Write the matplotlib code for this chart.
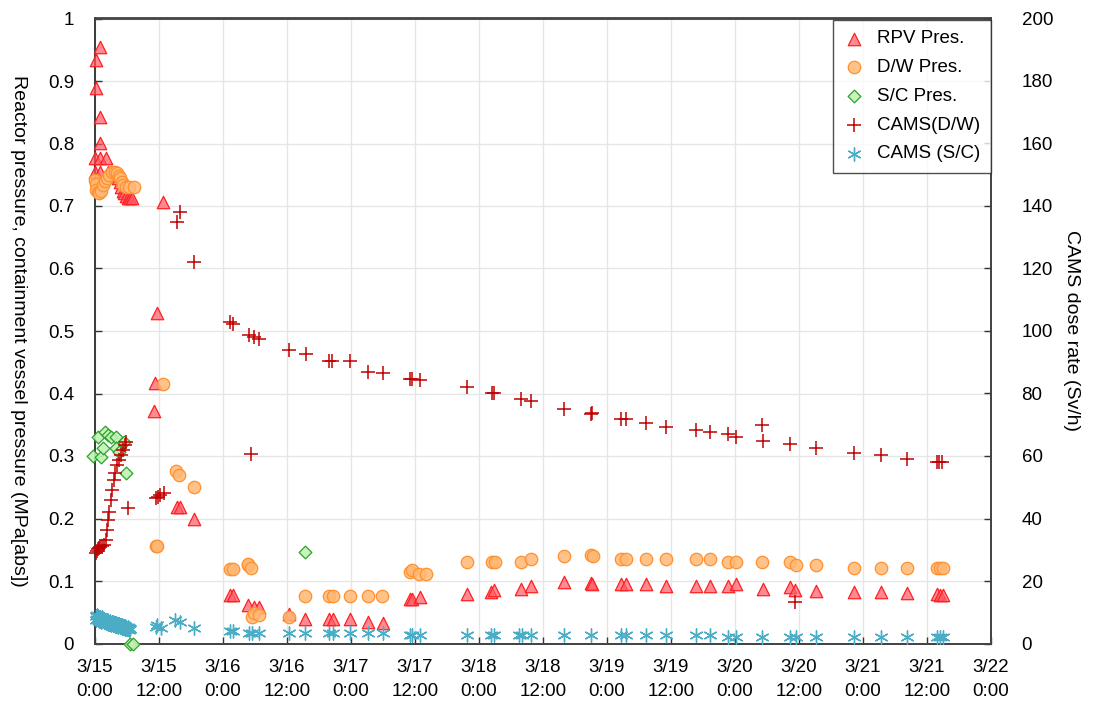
import matplotlib
matplotlib.use("Agg")
import matplotlib.pyplot as plt
import numpy as np

plt.rcParams['font.family'] = ['Liberation Sans', 'DejaVu Sans']

# Hours since 3/15 0:00
tick_hours = [0, 12, 24, 36, 48, 60, 72, 84, 96, 108, 120, 132, 144, 156, 168]
tick_labels = ["3/15\n0:00", "3/15\n12:00", "3/16\n0:00", "3/16\n12:00", "3/17\n0:00",
               "3/17\n12:00", "3/18\n0:00", "3/18\n12:00", "3/19\n0:00", "3/19\n12:00",
               "3/20\n0:00", "3/20\n12:00", "3/21\n0:00", "3/21\n12:00", "3/22\n0:00"]

# RPV pressure (MPa abs)
rpv_t = [0.1, 0.1, 0.9, 1.0, 1.0, 0.0, 1.0, 2.0, 0.0, 1.0,
         2.5, 3.0, 3.5, 4.0, 4.3, 4.6, 4.9, 5.2, 5.5, 5.8, 6.2, 6.6, 7.0,
         11.0, 11.3, 11.6, 12.75, 15.3, 15.9, 18.6,
         25.4, 25.9, 28.6, 29.8, 30.75, 36.4, 39.4, 43.9, 44.6, 47.75, 51.1, 54.0,
         59.0, 59.5, 60.9, 69.8, 74.2, 74.8, 79.8, 81.8, 88.0, 93.0, 93.2, 98.6, 99.6,
         103.4, 107.1, 112.6, 115.3, 118.75, 120.25, 125.25, 130.25, 131.25, 135.25,
         142.3, 147.3, 152.3, 157.8, 158.4, 159.0]
rpv_p = [0.933, 0.889, 0.954, 0.842, 0.800, 0.777, 0.777, 0.777, 0.754, 0.754,
         0.754, 0.754, 0.752, 0.750, 0.744, 0.738, 0.730, 0.724, 0.720, 0.716, 0.712, 0.712, 0.712,
         0.372, 0.417, 0.529, 0.707, 0.219, 0.219, 0.200,
         0.078, 0.078, 0.061, 0.059, 0.059, 0.048, 0.040, 0.039, 0.039, 0.039, 0.035, 0.033,
         0.072, 0.072, 0.075, 0.080, 0.083, 0.086, 0.087, 0.092, 0.099, 0.097, 0.095, 0.095, 0.095,
         0.096, 0.0925, 0.0925, 0.0925, 0.0925, 0.095, 0.088, 0.091, 0.086, 0.0845,
         0.083, 0.083, 0.081, 0.080, 0.078, 0.078]

# D/W pressure (MPa abs)
dw_t = [0.0, 0.1, 0.2, 0.5, 0.75, 1.1, 1.5, 1.9, 2.25, 2.7, 3.2, 3.7, 4.1, 4.5, 4.7, 5.0,
        5.25, 5.8, 6.4, 7.3,
        11.4, 11.7, 12.75, 15.1, 15.75, 18.6,
        25.4, 25.8, 28.6, 28.75, 29.2, 29.4, 29.8, 30.75,
        36.4, 39.4, 43.9, 44.6, 47.75, 51.1, 53.9,
        59.0, 59.4, 60.75, 62.0,
        69.8, 74.5, 75.0, 79.8, 81.8, 88.0, 93.0, 93.3, 98.6, 99.6, 103.4, 107.1, 112.6, 115.3,
        118.75, 120.25, 125.1, 130.25, 131.4, 135.25, 142.3, 147.3, 152.3, 157.8, 158.4, 159.0]
dw_p = [0.741, 0.735, 0.726, 0.722, 0.720, 0.724, 0.733, 0.740, 0.745, 0.750, 0.754, 0.754,
        0.752, 0.748, 0.744, 0.738, 0.733, 0.730, 0.730, 0.730,
        0.156, 0.156, 0.415, 0.276, 0.270, 0.250,
        0.120, 0.120, 0.126, 0.127, 0.121, 0.042, 0.049, 0.046,
        0.042, 0.076, 0.076, 0.076, 0.076, 0.076, 0.076,
        0.115, 0.118, 0.111, 0.111,
        0.131, 0.131, 0.131, 0.131, 0.135, 0.140, 0.1416, 0.140, 0.1357, 0.1357, 0.1357, 0.1357,
        0.1357, 0.1357, 0.131, 0.131, 0.131, 0.131, 0.1256, 0.1256, 0.1213, 0.1213, 0.1213,
        0.1213, 0.1213, 0.1213]

# S/C pressure (MPa abs)
sc_t = [-0.4, 0.5, 1.2, 1.8, 1.5, 2.4, 3.0, 3.9, 3.9, 4.5, 5.5, 5.9, 6.5, 7.1, 39.4]
sc_p = [0.300, 0.331, 0.299, 0.339, 0.312, 0.334, 0.331, 0.331, 0.312, 0.307, 0.323, 0.272,
        0.0, 0.0, 0.146]

# CAMS (D/W) dose rate (Sv/h)
camsdw_t = [0.2, 0.4, 0.6, 0.8, 1.0, 1.3, 1.7, 2.06, 2.25, 2.44, 2.63, 3.0, 3.2, 3.56, 3.75,
            4.1, 4.5, 4.9, 5.25, 5.6, 5.8, 6.2,
            11.4, 11.8, 12.2, 13.0, 15.3, 15.9, 18.6,
            25.4, 25.8, 28.9, 29.8, 30.75, 29.3,
            36.4, 39.5, 43.9, 44.4, 47.75, 51.1, 54.0, 59.0, 59.5, 60.9,
            69.8, 74.5, 74.8, 79.8, 81.8, 88.0, 93.0, 93.2, 98.6, 99.5, 103.4, 107.1, 112.6,
            115.3, 118.7, 120.25, 125.1, 125.25, 130.25, 131.3, 135.25, 142.3, 147.3, 152.3,
            157.9, 158.3, 158.9]
camsdw_d = [29.0, 29.6, 30.2, 30.6, 31.0, 31.2, 31.5, 33.1, 36.3, 39.5, 42.1, 46.0, 49.1, 52.3,
            54.6, 57.1, 58.7, 60.3, 61.9, 63.5, 64.5, 43.3,
            46.5, 47.0, 47.5, 48.2, 134.9, 138.0, 122.0,
            103.0, 102.2, 98.7, 98.2, 97.3, 60.6,
            93.9, 92.5, 90.4, 90.4, 90.4, 87.0, 86.5, 84.6, 84.6, 84.3,
            82.2, 80.3, 80.0, 78.2, 77.6, 74.9, 73.4, 73.8, 71.8, 71.8, 70.7, 69.4, 68.3,
            67.6, 67.0, 66.2, 69.9, 64.8, 63.8, 13.4, 62.7, 61.1, 60.3, 59.0,
            58.2, 58.2, 58.2]

# CAMS (S/C) dose rate (Sv/h)
camssc_t = [0.1, 0.2, 0.3, 0.4, 0.5, 0.6, 0.7, 0.8, 0.9, 1.0, 1.1, 1.2, 1.3, 1.4, 1.5, 1.6,
            1.7, 1.8, 1.9, 2.0, 2.1, 2.2, 2.3, 2.4, 2.5, 2.6, 2.7, 2.8, 2.9, 3.0, 3.1, 3.2,
            3.3, 3.4, 3.5, 3.6, 3.7, 3.8, 3.9, 4.0, 4.1, 4.2, 4.3, 4.4, 4.5, 4.6, 4.7, 4.8,
            4.9, 5.0, 5.1, 5.2, 5.3, 5.4, 5.5, 5.6, 5.7, 5.8, 5.9, 6.0, 6.1, 6.2, 6.3, 6.4, 6.5,
            11.4, 11.7, 12.3, 15.0, 15.9, 18.6, 25.4, 25.8,
            28.9, 29.5, 30.75, 36.4, 39.4, 43.9, 44.6, 47.75, 51.1, 54.0, 59.0, 59.5, 60.9,
            69.8, 74.2, 74.8, 79.5, 80.1, 81.8, 88.0, 93.0, 98.6, 99.6, 103.4, 107.1, 112.6,
            115.3, 118.75, 120.25, 125.1, 130.25, 131.4, 135.25, 142.3, 147.3, 152.3, 157.8,
            158.4, 159.0]
camssc_d = [8.8, 7.6, 9.2, 8.0, 7.4, 8.8, 8.4, 7.3, 8.6, 7.2, 8.2, 7.0, 8.6, 7.1, 8.0, 6.8,
            7.8, 6.9, 7.6, 6.6, 7.4, 6.7, 7.5, 6.4, 7.3, 6.3, 7.0, 6.2, 7.2, 6.0, 6.9, 6.1,
            6.8, 5.9, 6.6, 5.8, 6.5, 5.7, 6.6, 5.6, 6.3, 5.5, 6.2, 5.4, 6.1, 5.3, 6.0, 5.2,
            5.9, 5.1, 5.8, 5.0, 5.7, 4.9, 5.6, 4.8, 5.5, 4.7, 5.3, 4.6, 5.2, 4.5, 5.0, 4.4, 4.8,
            5.4, 5.8, 4.9, 7.5, 7.0, 4.9, 4.1, 4.1,
            3.3, 3.3, 3.3, 3.3, 3.3, 3.3, 3.3, 3.3, 3.3, 3.3, 2.7, 2.7, 2.7,
            2.7, 2.7, 2.7, 2.7, 2.7, 2.7, 2.7, 2.7, 2.7, 2.7, 2.7, 2.7, 2.7,
            2.7, 2.2, 2.2, 2.2, 2.2, 2.2, 2.2, 2.2, 2.2, 2.2, 2.2,
            2.2, 2.2]

fig = plt.figure(figsize=(10.94, 7.03), dpi=100)
W, H = 1094, 703
left, right, top, bottom = 95, 991, 18.5, 643.5
ax = fig.add_axes([left / W, (H - bottom) / H, (right - left) / W, (bottom - top) / H])
ax2 = ax.twinx()

ax.set_xlim(0, 168)
ax.set_ylim(0, 1)
ax2.set_ylim(0, 200)
ax.set_xticks(tick_hours)
ax.set_xticklabels(tick_labels, fontsize=13.5, linespacing=1.55)
ax.set_yticks(np.arange(0, 1.01, 0.1))
ax.set_yticklabels(["0", "0.1", "0.2", "0.3", "0.4", "0.5", "0.6", "0.7", "0.8", "0.9", "1"], fontsize=13.5)
ax2.set_yticks(np.arange(0, 201, 20))
ax2.set_yticklabels([str(v) for v in range(0, 201, 20)], fontsize=13.5)
ax.grid(True, color='#e6e6e6', lw=1.0)
ax.set_axisbelow(True)
ax.tick_params(direction='in', length=5, width=1, colors='#333333')
ax.tick_params(axis='y', labelcolor='black', pad=15)
ax.tick_params(axis='x', labelcolor='black', pad=11)
ax2.tick_params(direction='in', length=5, width=1, colors='#333333', labelcolor='black', pad=22)
for a in (ax, ax2):
    for s in a.spines.values():
        s.set_color('#444444')
        s.set_linewidth(1.3)
ax.spines['left'].set_color('black')

ax.set_ylabel("Reactor pressure, containment vessel pressure (MPa[abs])", fontsize=14,
              rotation=270)
ax2.set_ylabel("CAMS dose rate (Sv/h)", fontsize=14, rotation=270)
ax.yaxis.set_label_coords(-0.095, 0.5)
ax2.yaxis.set_label_coords(1.0995, 0.5)

ax2.set_zorder(ax.get_zorder() + 1)
ax2.patch.set_visible(False)

h1 = ax2.scatter(rpv_t, [v * 200 for v in rpv_p], marker='^', s=80, facecolor=(1, 0.35, 0.4, 0.7),
                 edgecolor='#ff2020', linewidth=0.9, clip_on=False, label='RPV Pres.', zorder=3)
h2 = ax2.scatter(dw_t, [v * 200 for v in dw_p], marker='o', s=80, facecolor=(1, 0.72, 0.45, 0.85),
                 edgecolor='#ff9030', linewidth=0.9, clip_on=False, label='D/W Pres.', zorder=3)
h3 = ax2.scatter(sc_t, [v * 200 for v in sc_p], marker='D', s=42, facecolor=(0.75, 0.95, 0.7, 0.9),
                 edgecolor='#2ea02e', linewidth=0.9, clip_on=False, label='S/C Pres.', zorder=3)
h4 = ax2.scatter(camsdw_t, camsdw_d, marker='+', s=110, color='#c00000', linewidth=1.1,
                 clip_on=False, label='CAMS(D/W)', zorder=4)
h5 = ax2.scatter(camssc_t, camssc_d, marker=(6, 2, 0), s=90, color='#4bacc6', linewidth=1.0,
                 clip_on=False, label='CAMS (S/C)', zorder=4)

leg = ax2.legend(handles=[h1, h2, h3, h4, h5], loc='upper right', bbox_to_anchor=(0.9995, 0.9975),
                 fontsize=13.5, frameon=True, fancybox=False, edgecolor='#222222',
                 labelspacing=0.62, handletextpad=0.6, borderpad=0.55, scatterpoints=1,
                 handlelength=1.2, borderaxespad=0.0)
leg.get_frame().set_linewidth(1.0)

fig.savefig("out.png", dpi=100)
